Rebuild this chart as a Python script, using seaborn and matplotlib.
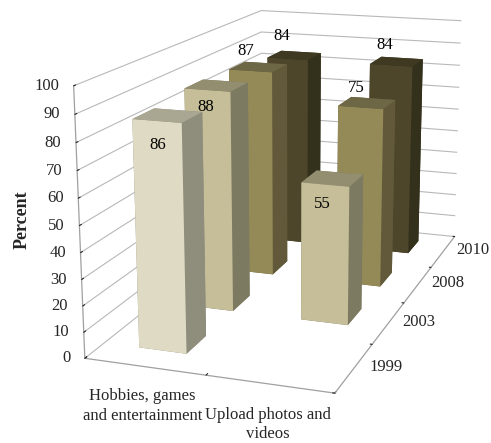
import matplotlib
matplotlib.use("Agg")
import matplotlib.pyplot as plt
from matplotlib.ticker import NullFormatter
from mpl_toolkits.mplot3d import proj3d
import seaborn as sns

sns.set_style("white")
plt.rcParams['font.family'] = ['Liberation Serif', 'DejaVu Serif']

categories = ["Hobbies, games\nand entertainment", "Upload photos and\nvideos"]
years = ["1999", "2003", "2008", "2010"]
percent_ticks = list(range(0, 101, 10))
hobbies = [86, 88, 87, 84]
uploads = [None, 55, 75, 84]
series = [hobbies, uploads]

front_colors = ["#DFDAC3", "#C6BE98", "#948A57", "#4E462B"]
side_colors = ["#8F8E7C", "#7D7A62", "#62593A", "#33301B"]
top_colors = ["#A9A792", "#938E70", "#6E6746", "#3E3920"]

# vertical shift of each value label relative to the bar top
hobby_label_dz = [-8.7, -6.5, 8, 10]
upload_label_dz = [0, -7.5, 8, 8.6]
label_dz = [hobby_label_dz, upload_label_dz]

W, H = 491, 443
fig = plt.figure(figsize=(W / 100, H / 100), dpi=100)
side_px = 559.3
ax = fig.add_axes([5.1 / W, -16.5 / H, side_px / W, side_px / H], projection="3d")
ax.set_proj_type("persp", focal_length=0.463)
ax.view_init(elev=14.94, azim=-71.06)
ax.set_box_aspect((0.943, 1.859, 1.0), zoom=1.0)

bar_w, bar_d = 0.40, 0.40
depth_shift = 0.04
for ci, vals in enumerate(series):
    for yi, v in enumerate(vals):
        if v is None:
            continue
        y0 = yi + depth_shift - bar_d / 2
        # face order: bottom, top, front, back, left, right
        faces = [side_colors[yi], top_colors[yi], front_colors[yi],
                 side_colors[yi], side_colors[yi], side_colors[yi]]
        ax.bar3d(ci - bar_w / 2, y0, 0, bar_w, bar_d, v,
                 color=faces, shade=False, edgecolor="none", zsort="max")
        ax.text(ci - 0.02 * yi, y0, v + label_dz[ci][yi], str(v), fontsize=12,
                color="black", ha="center", va="center", zorder=1000)

ax.set_xlim(-0.5, 1.5)
ax.set_ylim(-0.5, 3.5)
ax.set_zlim(0, 100)
ax.set_xticks([-0.5, 0.5, 1.5])
ax.set_yticks([-0.5, 0.5, 1.5, 2.5, 3.5])
ax.set_zticks(percent_ticks)
ax.zaxis.set_ticks_position("lower")
for axis in (ax.xaxis, ax.yaxis, ax.zaxis):
    axis.set_major_formatter(NullFormatter())
    axis.set_pane_color((1, 1, 1, 0))
    axis.pane.set_edgecolor("none")
    axis._axinfo["grid"].update(color="#b8b8b8", linewidth=0.8)
    axis.line.set_color("#a0a0a0")
    axis.line.set_linewidth(0.9)
    axis._axinfo["tick"]["color"] = "#808080"
    axis._axinfo["tick"]["inward_factor"] = 0.0
ax.xaxis._axinfo["grid"]["linewidth"] = 0
ax.yaxis._axinfo["grid"]["linewidth"] = 0
ax.grid(True)

# percent labels are right-aligned against the projected left edge of the wall
fig.canvas.draw()
proj = ax.get_proj()
for tick in percent_ticks:
    xs, ys, _ = proj3d.proj_transform(-0.5, -0.5, tick, proj)
    px, py = ax.transData.transform((xs, ys))
    fig.text((px - 14.5) / W, py / H, str(tick), fontsize=12, ha="right", va="center")

# category and year names sit between the tick marks
cat_pos = [(142.5, 406), (268, 424.5)]
year_pos = [(386, 367), (419, 322), (448, 283), (473, 250)]
for (px, py), name in zip(cat_pos, categories):
    fig.text(px / W, 1 - py / H, name, fontsize=12, ha="center", va="center", linespacing=1.3)
for (px, py), name in zip(year_pos, years):
    fig.text(px / W, 1 - py / H, name, fontsize=12, ha="center", va="center")
fig.text(22 / W, 1 - 220 / H, "Percent", rotation=90, fontsize=13, fontweight="bold", ha="center", va="center")
fig.savefig("out.png", dpi=100)
